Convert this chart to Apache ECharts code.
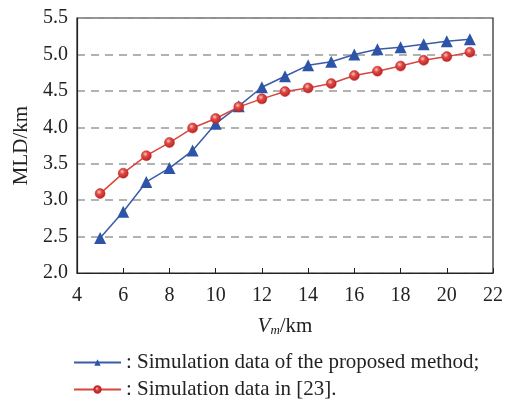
<!DOCTYPE html>
<html>
<head>
<meta charset="utf-8">
<script src="https://cdn.jsdelivr.net/npm/echarts@6/dist/echarts.min.js"></script>
<style>
  html, body { margin: 0; padding: 0; background: #fff; }
  #chart { width: 510px; height: 400px; }
</style>
</head>
<body>
<div id="chart"></div>
<script>
// x values (V_m, km)
var vm = [5, 6, 7, 8, 9, 10, 11, 12, 13, 14, 15, 16, 17, 18, 19, 20, 21];
// MLD of the proposed method
var proposed = [2.48, 2.84, 3.25, 3.44, 3.68, 4.05, 4.29, 4.55, 4.70, 4.85, 4.90, 5.00, 5.07, 5.10, 5.14, 5.18, 5.21];
// MLD from [23]
var ref23 = [3.09, 3.37, 3.61, 3.79, 3.99, 4.12, 4.28, 4.39, 4.49, 4.54, 4.60, 4.71, 4.77, 4.84, 4.92, 4.97, 5.03];

var names = ['Simulation data of the proposed method;', 'Simulation data in [23].'];
var font = '"Liberation Serif", "DejaVu Serif", serif';

function pairs(xs, ys) {
    return xs.map(function (x, i) { return [x, ys[i]]; });
}

// one legend per line so they stack like the figure
function legendRow(name, top) {
    return {
        left: 68, top: top,
        itemWidth: 47, itemHeight: 8,
        textStyle: { fontFamily: font, fontSize: 21, color: '#222' },
        formatter: function (n) { return ': ' + n; },
        data: [name]
    };
}

var chart = echarts.init(document.getElementById('chart'));

var option = {
    animation: false,
    textStyle: { fontFamily: font, color: '#222' },
    grid: {
        left: 77, right: 17, top: 18, bottom: 127,
        show: true, borderColor: '#222', borderWidth: 1.2
    },
    xAxis: {
        type: 'value',
        min: 4, max: 22, interval: 2,
        axisLine: { lineStyle: { color: '#222', width: 1.2 } },
        axisTick: { inside: true, length: 5, lineStyle: { color: '#222' } },
        axisLabel: { fontFamily: font, fontSize: 20, color: '#222', margin: 13 },
        splitLine: { show: false },
        name: '{i|V}{s|m}{n|/km}',
        nameLocation: 'middle',
        nameGap: 42,
        nameTextStyle: {
            rich: {
                i: { fontFamily: font, fontSize: 21, fontStyle: 'italic', color: '#222' },
                s: { fontFamily: font, fontSize: 13, fontStyle: 'italic', color: '#222', padding: [9, 0, 0, 0] },
                n: { fontFamily: font, fontSize: 21, color: '#222' }
            }
        }
    },
    yAxis: {
        type: 'value',
        min: 2, max: 5.5, interval: 0.5,
        axisLine: { show: true, lineStyle: { color: '#222', width: 1.2 } },
        axisTick: { show: false },
        axisLabel: {
            fontFamily: font, fontSize: 20, color: '#222', margin: 9,
            formatter: function (v) { return v.toFixed(1); }
        },
        splitLine: { lineStyle: { color: '#999', type: [8, 6], width: 1.5 } },
        name: 'MLD/km',
        nameLocation: 'middle',
        nameGap: 41,
        nameTextStyle: { fontFamily: font, fontSize: 21, color: '#222' }
    },
    legend: [legendRow(names[0], 347), legendRow(names[1], 374)],
    series: [
        {
            name: names[0],
            type: 'line',
            data: pairs(vm, proposed),
            symbol: 'triangle',
            symbolSize: 12,
            lineStyle: { color: '#3a5ba8', width: 1.5 },
            itemStyle: { color: '#2d54a6' },
            z: 3
        },
        {
            name: names[1],
            type: 'line',
            data: pairs(vm, ref23),
            symbol: 'circle',
            symbolSize: 10,
            lineStyle: { color: '#d9453f', width: 1.5 },
            itemStyle: {
                color: {
                    type: 'radial', x: 0.4, y: 0.35, r: 0.7,
                    colorStops: [
                        { offset: 0, color: '#f7c9c4' },
                        { offset: 0.35, color: '#e04a44' },
                        { offset: 1, color: '#b01d1d' }
                    ]
                },
                borderColor: '#c0282a', borderWidth: 0.5
            },
            z: 4
        }
    ]
};

chart.setOption(option);

window.onresize = function () {
    chart.resize();
};
</script>
</body>
</html>
